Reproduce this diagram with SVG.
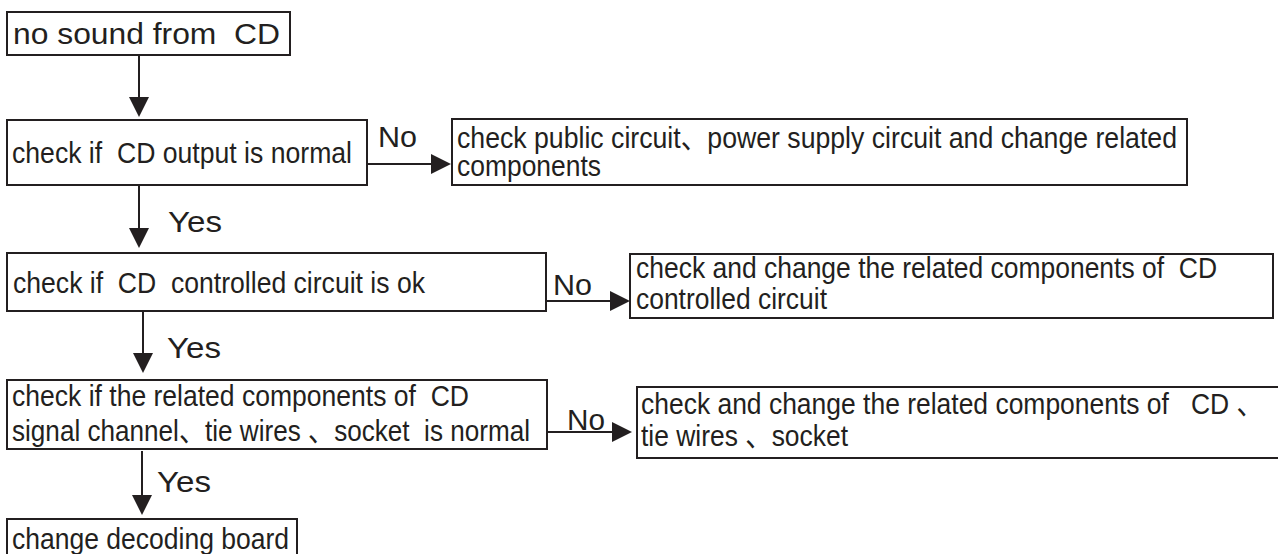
<svg xmlns="http://www.w3.org/2000/svg" width="1278" height="554" viewBox="0 0 1278 554">
<style>
.box{fill:#fff;stroke:#231f20;stroke-width:2}
.t{font-family:"Liberation Sans","Noto Sans CJK SC",Arial,sans-serif;font-size:30px;fill:#231f20;white-space:pre}
.c{fill:none;stroke:#231f20;stroke-width:2}
</style>
<defs>
<marker id="ah" viewBox="0 0 20 20" refX="0" refY="10" markerWidth="20" markerHeight="20" markerUnits="userSpaceOnUse" orient="auto">
<path d="M0,0 L20,10 L0,20 z" fill="#231f20"/>
</marker>
</defs>
<rect width="1278" height="554" fill="#fff"/>
<g id="connectors">
<path class="c" d="M139,55 V97" marker-end="url(#ah)"/>
<path class="c" d="M139,185 V228" marker-end="url(#ah)"/>
<path class="c" d="M143,311 V353" marker-end="url(#ah)"/>
<path class="c" d="M142,451 V495" marker-end="url(#ah)"/>
<path class="c" d="M367,164 H431" marker-end="url(#ah)"/>
<path class="c" d="M546,301 H610" marker-end="url(#ah)"/>
<path class="c" d="M547,432 H612" marker-end="url(#ah)"/>
<text class="t" x="378" y="147" textLength="39" lengthAdjust="spacingAndGlyphs">No</text>
<text class="t" x="553" y="295" textLength="39" lengthAdjust="spacingAndGlyphs">No</text>
<text class="t" x="567" y="430" textLength="38" lengthAdjust="spacingAndGlyphs">No</text>
<text class="t" x="168" y="232" textLength="54" lengthAdjust="spacingAndGlyphs">Yes</text>
<text class="t" x="167" y="358" textLength="54" lengthAdjust="spacingAndGlyphs">Yes</text>
<text class="t" x="157" y="492" textLength="54" lengthAdjust="spacingAndGlyphs">Yes</text>
</g>
<g id="n1">
<rect class="box" x="7" y="12" width="283" height="43"/>
<text class="t" x="13" y="44" textLength="267" lengthAdjust="spacingAndGlyphs">no sound from  CD</text>
</g>
<g id="n2">
<rect class="box" x="7" y="120" width="360" height="65"/>
<text class="t" x="12" y="163" textLength="340" lengthAdjust="spacingAndGlyphs">check if  CD output is normal</text>
</g>
<g id="n3">
<rect class="box" x="452" y="119" width="735" height="66"/>
<text class="t" x="457" y="148" textLength="720" lengthAdjust="spacingAndGlyphs">check public circuit、power supply circuit and change related</text>
<text class="t" x="457" y="176" textLength="144" lengthAdjust="spacingAndGlyphs">components</text>
</g>
<g id="n4">
<rect class="box" x="7" y="253" width="539" height="58"/>
<text class="t" x="13" y="293" textLength="412" lengthAdjust="spacingAndGlyphs">check if  CD  controlled circuit is ok</text>
</g>
<g id="n5">
<rect class="box" x="630" y="254" width="643" height="64"/>
<text class="t" x="636" y="278" textLength="581" lengthAdjust="spacingAndGlyphs">check and change the related components of  CD</text>
<text class="t" x="636" y="309" textLength="191" lengthAdjust="spacingAndGlyphs">controlled circuit</text>
</g>
<g id="n6">
<rect class="box" x="7" y="380" width="540" height="69"/>
<text class="t" x="12" y="406" textLength="457" lengthAdjust="spacingAndGlyphs">check if the related components of  CD</text>
<text class="t" x="12" y="441" textLength="518" lengthAdjust="spacingAndGlyphs">signal channel、tie wires 、socket  is normal</text>
</g>
<g id="n7">
<path class="box" d="M1278,387 H637 V458 H1278"/>
<text class="t" x="641" y="414" textLength="622" lengthAdjust="spacingAndGlyphs">check and change the related components of   CD 、</text>
<text class="t" x="641" y="446" textLength="207" lengthAdjust="spacingAndGlyphs">tie wires 、socket</text>
</g>
<g id="n8">
<path class="box" d="M7,554 V519 H297 V554"/>
<text class="t" x="12" y="549" textLength="277" lengthAdjust="spacingAndGlyphs">change decoding board</text>
</g>
</svg>
